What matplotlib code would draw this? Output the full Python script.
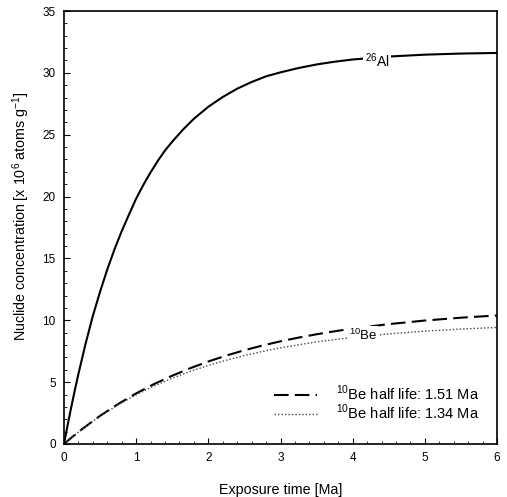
import matplotlib
matplotlib.use("Agg")
import matplotlib.pyplot as plt
from matplotlib.ticker import MultipleLocator

plt.rcParams["font.family"] = ["Liberation Sans", "DejaVu Sans"]
plt.rcParams["mathtext.fontset"] = "custom"
plt.rcParams["mathtext.rm"] = "Liberation Sans"

# values (Ma, x10^6 atoms/g)
t_al = [0, 0.05, 0.1, 0.15, 0.2, 0.3, 0.4, 0.5, 0.6, 0.7, 0.8, 0.9, 1.0,
        1.1, 1.2, 1.3, 1.4, 1.5, 1.65, 1.8, 2.0, 2.2, 2.4, 2.6, 2.8, 3.0,
        3.25, 3.5, 3.75, 4.0, 4.5, 5.0, 5.5, 6.0]
al26 = [0, 1.52, 2.97, 4.35, 5.67, 8.13, 10.36, 12.31, 14.11, 15.74, 17.21,
        18.54, 19.84, 20.95, 21.96, 22.89, 23.73, 24.44, 25.42, 26.29, 27.26,
        28.05, 28.72, 29.26, 29.72, 30.04, 30.39, 30.68, 30.90, 31.08, 31.32,
        31.47, 31.56, 31.61]

t_be = [0, 0.1, 0.25, 0.5, 0.75, 1.0, 1.25, 1.5, 1.75, 2.0, 2.25, 2.5, 2.75,
        3.0, 3.25, 3.5, 3.75, 4.0, 4.5, 5.0, 5.5, 6.0]
be10_151 = [0, 0.50, 1.20, 2.28, 3.23, 4.09, 4.85, 5.52, 6.13, 6.67, 7.15,
            7.58, 7.96, 8.30, 8.60, 8.87, 9.11, 9.33, 9.69, 9.98, 10.21, 10.39]
be10_134 = [0, 0.50, 1.20, 2.25, 3.17, 3.98, 4.69, 5.32, 5.87, 6.35, 6.77,
            7.15, 7.48, 7.77, 8.02, 8.25, 8.44, 8.61, 8.90, 9.12, 9.29, 9.42]

fig = plt.figure(figsize=(5.07, 4.97), dpi=100)
ax = fig.add_axes([64 / 507, 53 / 497, 433 / 507, 433 / 497])

ax.plot(t_al, al26, color="black", lw=1.5, zorder=2)
ax.plot(t_be, be10_151, color="black", lw=1.5, dashes=(7, 3),
        label=r"$^{10}$Be half life: 1.51 Ma", zorder=2)
ax.plot(t_be, be10_134, color="#444444", lw=1.0, dashes=(1, 1.5),
        label=r"$^{10}$Be half life: 1.34 Ma", zorder=2)

ax.text(4.34, 31.0, r"$^{26}$Al", fontsize=10, ha="center", va="center",
        bbox=dict(facecolor="white", edgecolor="none", pad=1), zorder=3)
ax.text(4.14, 8.8, r"$^{10}$Be", fontsize=9.5, ha="center", va="center",
        bbox=dict(facecolor="white", edgecolor="none", pad=1), zorder=3)

ax.set_xlim(0, 6)
ax.set_ylim(0, 35)
ax.xaxis.set_major_locator(MultipleLocator(1))
ax.xaxis.set_minor_locator(MultipleLocator(0.2))
ax.yaxis.set_major_locator(MultipleLocator(5))
ax.yaxis.set_minor_locator(MultipleLocator(1))
ax.tick_params(which="both", direction="in", top=False, right=False,
               labelsize=8.5, pad=6)
ax.tick_params(which="major", length=4)
ax.tick_params(which="minor", length=2)
for s in ax.spines.values():
    s.set_linewidth(1.2)

ax.set_xlabel("Exposure time [Ma]", fontsize=10.3, va="center")
ax.set_ylabel(r"Nuclide concentration [x 10$^6$ atoms g$^{-1}$]", fontsize=10.3,
              va="center")
ax.xaxis.set_label_coords(0.5, -0.107)
ax.yaxis.set_label_coords(-0.099, 0.527)

ax.legend(loc="lower right", bbox_to_anchor=(0.99, 0.02), frameon=False,
          fontsize=10.5, handlelength=3.0, handletextpad=1.3, labelspacing=0.0)

fig.savefig("out.png", dpi=100)
